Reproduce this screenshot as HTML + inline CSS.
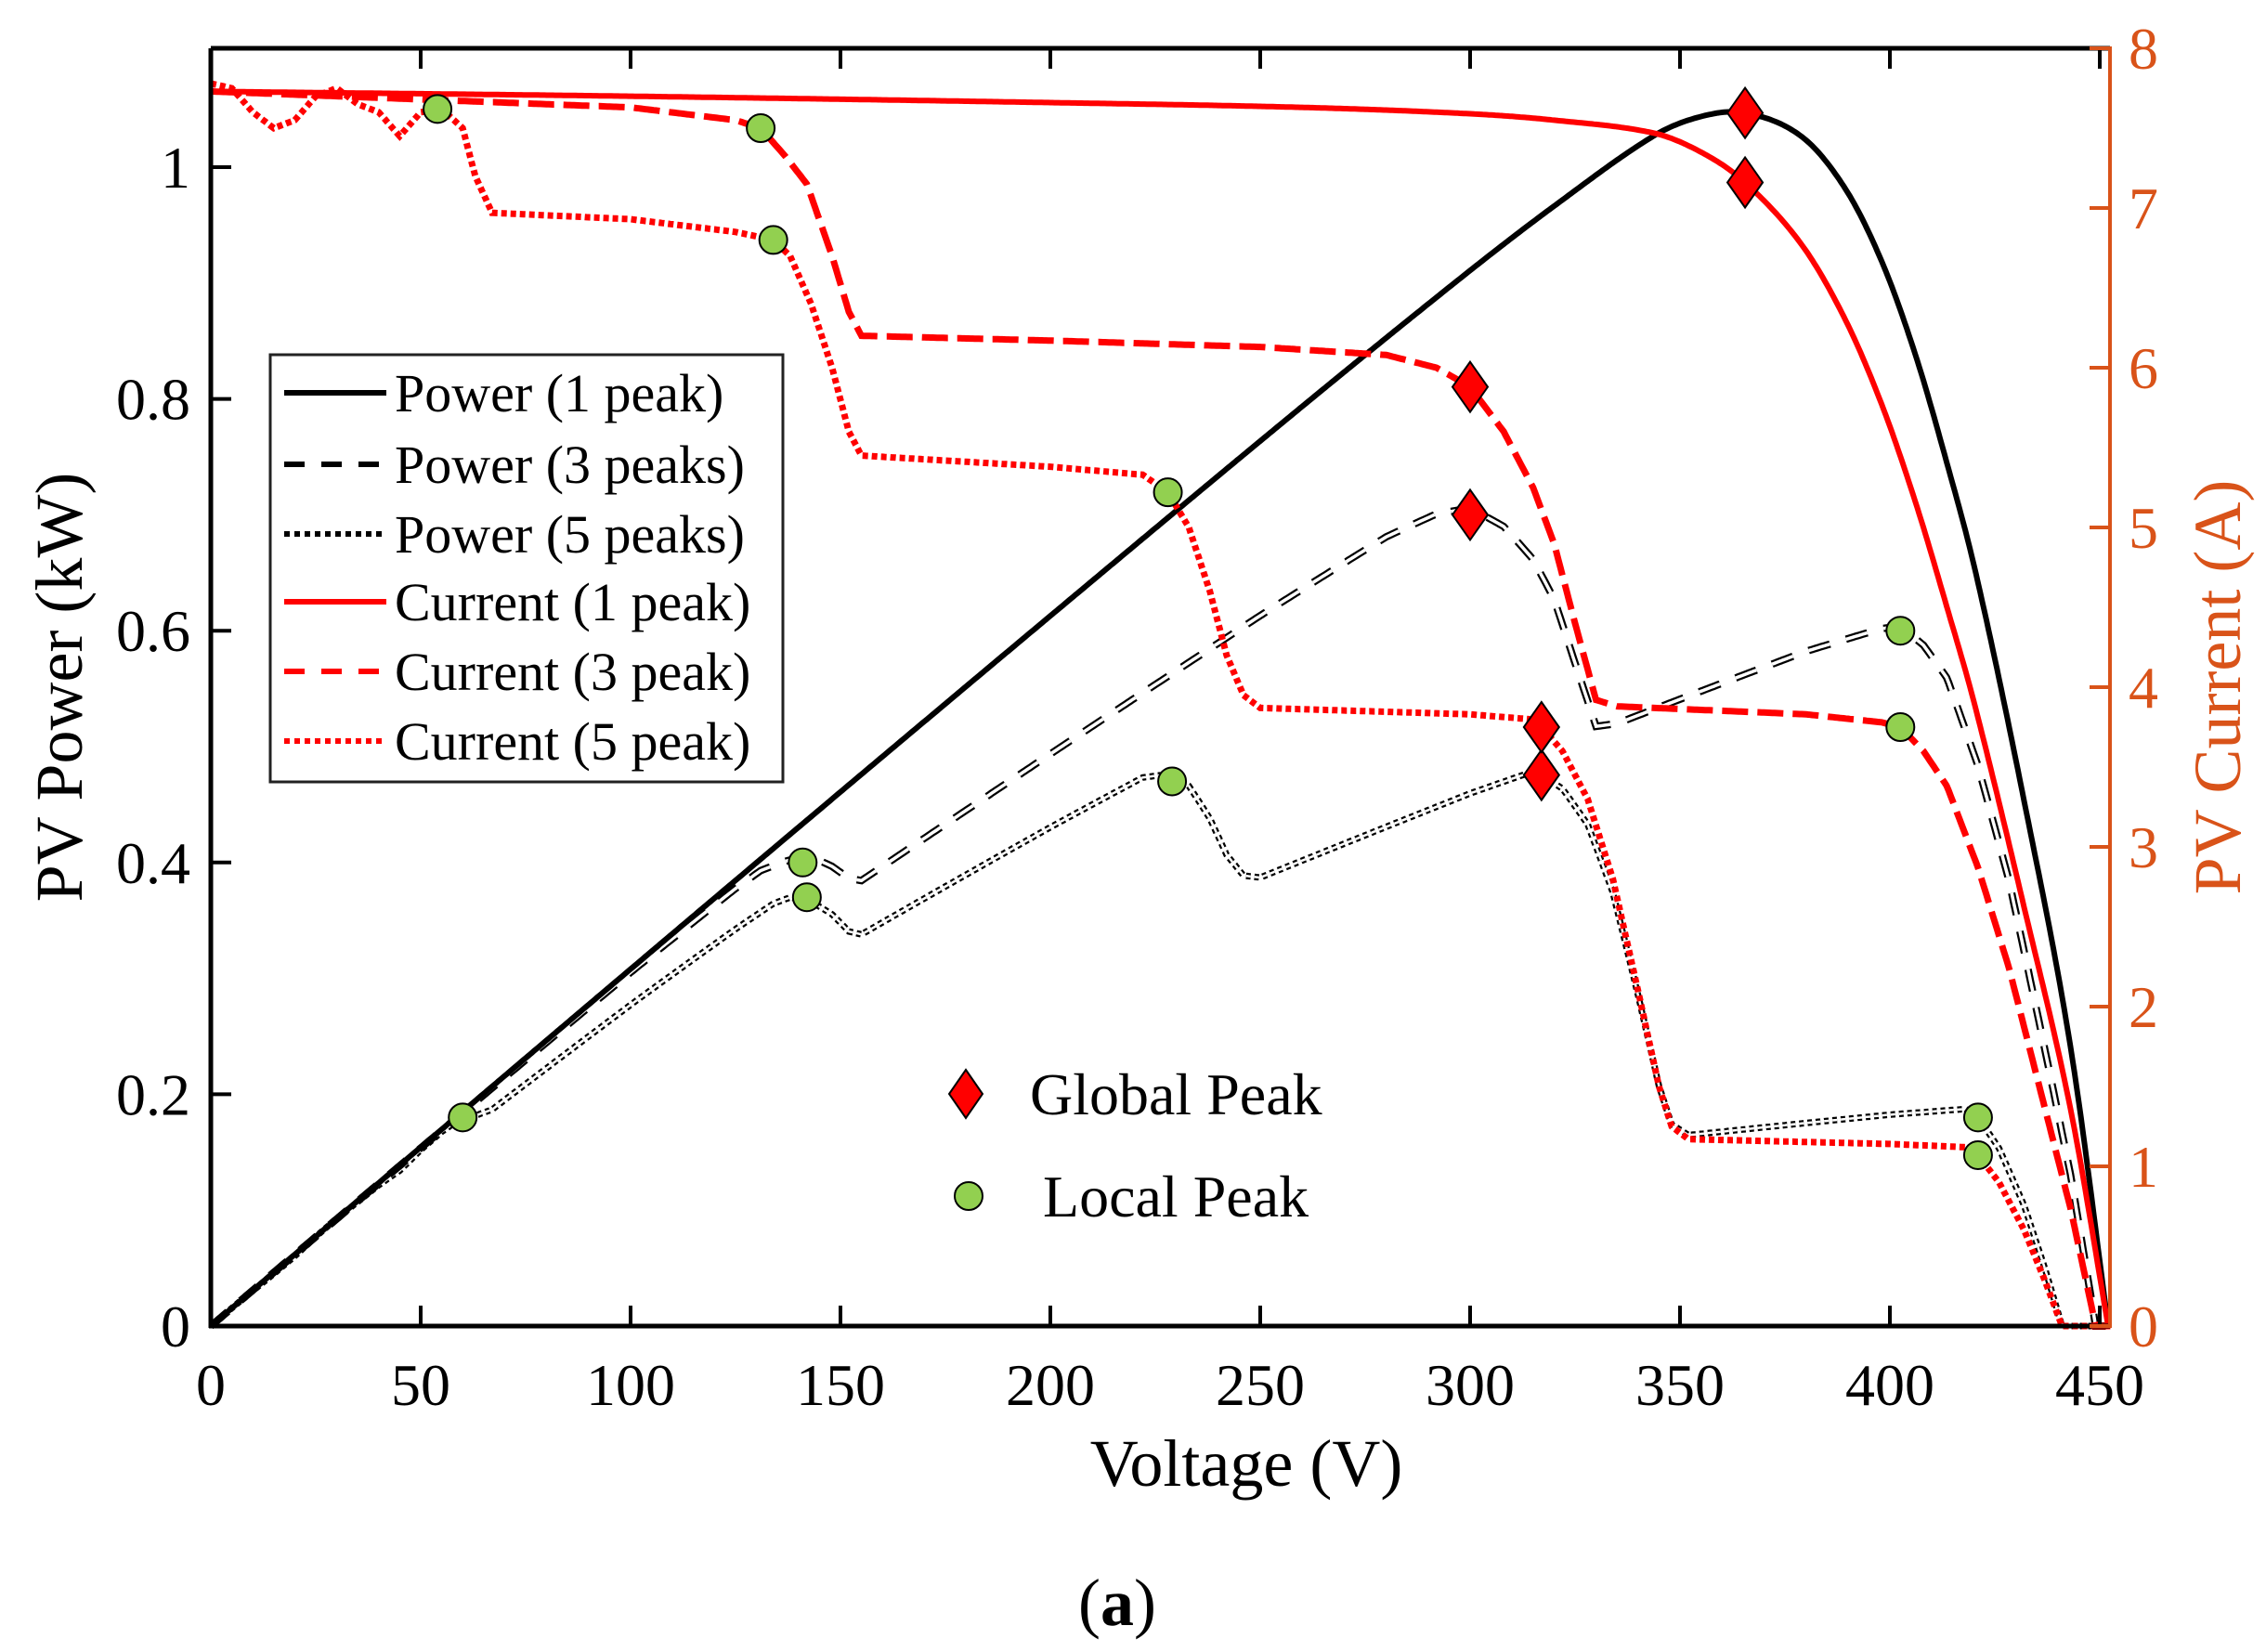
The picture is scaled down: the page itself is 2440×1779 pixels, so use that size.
<!DOCTYPE html>
<html><head><meta charset="utf-8"><style>
body{margin:0;background:#fff}
svg{display:block}
text{font-family:"Liberation Serif",serif}
</style></head><body>
<svg id="s" width="2440" height="1779" xmlns="http://www.w3.org/2000/svg">
<g id="curves"></g>
<g id="marks"></g>
<line x1="227" y1="52" x2="2272" y2="52" stroke="#000" stroke-width="5"/>
<line x1="227" y1="52" x2="227" y2="1430" stroke="#000" stroke-width="5"/>
<line x1="225" y1="1428" x2="2272" y2="1428" stroke="#000" stroke-width="5"/>
<line x1="2272" y1="50" x2="2272" y2="1430" stroke="#D95319" stroke-width="4"/>
<g id="ticks"></g>
<g font-size="64" fill="#000" text-anchor="middle" id="xl"></g>
<text x="1342" y="1600" font-size="72" text-anchor="middle">Voltage (V)</text>
<text transform="translate(88,740) rotate(-90)" font-size="72" text-anchor="middle">PV Power (kW)</text>
<text transform="translate(2412,740) rotate(-90)" font-size="72" text-anchor="middle" fill="#D95319">PV Current (A)</text>
<text x="1203" y="1750" font-size="72" text-anchor="middle">(<tspan font-weight="bold">a</tspan>)</text>
<rect x="291" y="382" width="552" height="460" fill="#fff" stroke="#222" stroke-width="3"/>
<g stroke-width="6">
<line x1="306" y1="423" x2="416" y2="423" stroke="#000"/>
<line x1="306" y1="500" x2="416" y2="500" stroke="#000" stroke-dasharray="22,18"/>
<line x1="306" y1="575" x2="416" y2="575" stroke="#000" stroke-dasharray="6,5"/>
<line x1="306" y1="648" x2="416" y2="648" stroke="#f00"/>
<line x1="306" y1="723" x2="416" y2="723" stroke="#f00" stroke-dasharray="22,18"/>
<line x1="306" y1="798" x2="416" y2="798" stroke="#f00" stroke-dasharray="6,5"/>
</g>
<g font-size="58">
<text x="425" y="443">Power (1 peak)</text>
<text x="425" y="520">Power (3 peaks)</text>
<text x="425" y="595">Power (5 peaks)</text>
<text x="425" y="668">Current (1 peak)</text>
<text x="425" y="743">Current (3 peak)</text>
<text x="425" y="818">Current (5 peak)</text>
</g>
<polygon points="1040,1152 1058,1178 1040,1204 1022,1178" fill="#f00" stroke="#000" stroke-width="2"/>
<circle cx="1043" cy="1288" r="15" fill="#92D050" stroke="#000" stroke-width="2"/>
<text x="1109" y="1200" font-size="64">Global Peak</text>
<text x="1123" y="1310" font-size="64">Local Peak</text>
</svg>
<script>
const NS="http://www.w3.org/2000/svg";
const X=v=>227+v*4.52, YP=p=>1428-p*1248, YI=i=>1428-i*172;
function el(p,tag,a){const e=document.createElementNS(NS,tag);for(const k in a)e.setAttribute(k,a[k]);p.appendChild(e);return e;}
function interp(pts,v){if(v<=pts[0][0])return pts[0][1];for(let i=1;i<pts.length;i++){if(v<=pts[i][0]){const [a,b]=pts[i-1],[c,d]=pts[i];return b+(d-b)*(v-a)/(c-a);}}return pts[pts.length-1][1];}
function spline(P,v){const n=P.length;if(v<=P[0][0])return P[0][1];if(v>=P[n-1][0])return P[n-1][1];
 let i=1;while(P[i][0]<v)i++;const k=i-1;
 const tan=j=>{const a=P[Math.max(0,j-1)],b=P[Math.min(n-1,j+1)];return (b[1]-a[1])/(b[0]-a[0]);};
 const x0=P[k][0],x1=P[k+1][0],y0=P[k][1],y1=P[k+1][1],h=x1-x0,t=(v-x0)/h;
 const m0=tan(k)*h,m1=tan(k+1)*h,t2=t*t,t3=t2*t;
 return (2*t3-3*t2+1)*y0+(t3-2*t2+t)*m0+(-2*t3+3*t2)*y1+(t3-t2)*m1;}
const p1=[[0,7.73],[100,7.7],[200,7.66],[260,7.63],[300,7.59],[320,7.55],[343.6,7.47],[355,7.35],[365.5,7.16],[379,6.77],[389.4,6.3],[398.2,5.76],[406.2,5.15],[413.6,4.5],[420.3,3.88],[432,2.62],[443.1,1.35],[452,0]];
const I1=v=>v>=452?0:Math.max(0,spline(p1,v));
const p3=[[0,7.73],[100,7.63],[125,7.55],[131,7.5],[137,7.32],[142,7.15],[148,6.7],[152,6.35],[155,6.2],[200,6.17],[250,6.13],[280,6.08],[292,6.0],[300,5.88],[308,5.6],[315,5.25],[320,4.9],[325,4.4],[330,3.92],[335,3.88],[380,3.83],[398,3.78],[402.5,3.75],[408,3.6],[413.6,3.38],[421,2.87],[428.4,2.24],[435.8,1.48],[443.1,0.73],[448.3,0.09],[449,0],[453,0]];
const p5=[[0,7.78],[5,7.75],[10,7.6],[15,7.5],[20,7.55],[25,7.7],[30,7.75],[35,7.65],[40,7.6],[45,7.45],[50,7.6],[55,7.62],[60,7.5],[63,7.2],[67,6.97],[100,6.93],[125,6.85],[134,6.8],[138,6.7],[143,6.4],[148,6.0],[152,5.6],[155,5.45],[200,5.38],[222,5.33],[228,5.22],[233,5.0],[238,4.6],[242,4.2],[246,3.95],[250,3.87],[300,3.83],[314,3.8],[317,3.75],[322,3.6],[328,3.3],[334,2.8],[340,2.1],[345,1.5],[348,1.25],[352,1.17],[400,1.14],[418,1.12],[421,1.07],[426,0.9],[432,0.6],[437,0.28],[441,0],[453,0]];
const fI3=v=>interp(p3,v), fI5=v=>interp(p5,v);
function path(f,Y,vmax){let d="";for(let v=0;v<=vmax;v+=0.5){d+=(v?"L":"M")+X(v).toFixed(1)+","+Y(f(v)).toFixed(1);}return d;}
const g=document.getElementById("curves");
const VM=452.5;
el(g,"path",{d:path(v=>v*fI5(v)/2500,YP,VM),fill:"none",stroke:"#000","stroke-width":7,"stroke-dasharray":"5,4"});
el(g,"path",{d:path(v=>v*fI5(v)/2500,YP,VM),fill:"none",stroke:"#fff","stroke-width":2.5,"stroke-dasharray":"5,4"});
el(g,"path",{d:path(v=>v*fI3(v)/2500,YP,VM),fill:"none",stroke:"#000","stroke-width":8,"stroke-dasharray":"24,18"});
el(g,"path",{d:path(v=>v*fI3(v)/2500,YP,VM),fill:"none",stroke:"#fff","stroke-width":3.5,"stroke-dasharray":"24,18"});
el(g,"path",{d:path(v=>v*I1(v)/2500,YP,VM),fill:"none",stroke:"#000","stroke-width":6});
el(g,"path",{d:path(fI5,YI,VM),fill:"none",stroke:"#f00","stroke-width":7,"stroke-dasharray":"6,4"});
el(g,"path",{d:path(fI3,YI,VM),fill:"none",stroke:"#f00","stroke-width":7,"stroke-dasharray":"28,10"});
el(g,"path",{d:path(I1,YI,VM),fill:"none",stroke:"#f00","stroke-width":6});
const m=document.getElementById("marks");
function dia(x,y){el(m,"polygon",{points:`${x},${y-27} ${x+19},${y} ${x},${y+27} ${x-19},${y}`,fill:"#f00",stroke:"#000","stroke-width":2});}
function circ(x,y){el(m,"circle",{cx:x,cy:y,r:15,fill:"#92D050",stroke:"#000","stroke-width":2});}
dia(X(365.5),YP(365.5*I1(365.5)/2500));dia(X(365.5),YI(I1(365.5)));
dia(X(300),YP(0.70));dia(X(300),YI(5.88));
dia(X(317),YP(317*3.75/2500));dia(X(317),YI(3.75));
[[54,7.62],[131,7.5],[134,6.8],[228,5.22],[402.5,3.75],[421,1.07]].forEach(([v,i])=>circ(X(v),YI(i)));
[[60,0.18],[141,0.40],[142,0.37],[229,0.47],[402.5,0.60],[421,0.18]].forEach(([v,p])=>circ(X(v),YP(p)));
const t=document.getElementById("ticks"), xl=document.getElementById("xl");
for(let v=0;v<=450;v+=50){const x=X(v);if(v>0){el(t,"line",{x1:x,y1:1428,x2:x,y2:1406,stroke:"#000","stroke-width":4});el(t,"line",{x1:x,y1:52,x2:x,y2:74,stroke:"#000","stroke-width":4});}
const tx=el(xl,"text",{x:x,y:1513});tx.textContent=v;}
for(let k=0;k<=5;k++){const p=k*0.2,y=YP(p);el(t,"line",{x1:227,y1:y,x2:249,y2:y,stroke:"#000","stroke-width":4});
const tx=el(t,"text",{x:205,y:y+22,"font-size":64,"text-anchor":"end"});tx.textContent=k==5?"1":(k==0?"0":p.toFixed(1));}
for(let i=0;i<=8;i++){const y=YI(i);el(t,"line",{x1:2250,y1:y,x2:2272,y2:y,stroke:"#D95319","stroke-width":4});
const tx=el(t,"text",{x:2292,y:y+22,"font-size":64,fill:"#D95319"});tx.textContent=i;}
</script>
</body></html>
